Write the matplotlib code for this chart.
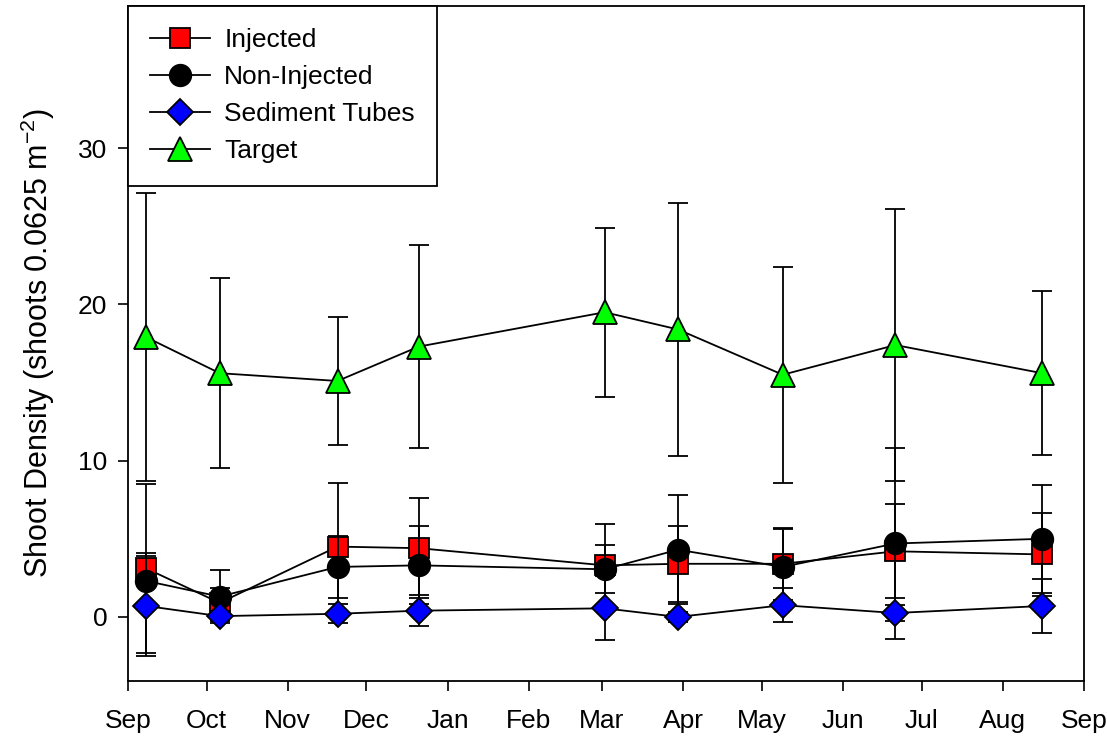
import numpy as np
import matplotlib
matplotlib.use('Agg')
import matplotlib.pyplot as plt
import matplotlib.dates as mdates

plt.rcParams['font.family'] = ['Liberation Sans', 'DejaVu Sans']
plt.rcParams['mathtext.default'] = 'regular'

# sampling dates
dates = np.array(['2010-09-08', '2010-10-06', '2010-11-20', '2010-12-21', '2011-03-02',
                  '2011-03-30', '2011-05-09', '2011-06-21', '2011-08-16'], dtype='datetime64[D]')

injected = [3.1, 0.9, 4.5, 4.4, 3.3, 3.4, 3.4, 4.2, 4.0]
injected_err = [5.4, 0.95, 4.1, 3.2, 2.65, 2.45, 2.3, 3.0, 2.65]

non_injected = [2.3, 1.3, 3.2, 3.3, 3.05, 4.3, 3.2, 4.7, 5.0]
non_injected_err = [1.8, 1.7, 2.0, 2.5, 1.55, 3.5, 2.45, 6.1, 3.45]

sediment = [0.7, 0.05, 0.2, 0.4, 0.55, 0.0, 0.75, 0.25, 0.7]
sediment_err = [3.2, 0.3, 0.6, 1.0, 2.05, 0.3, 1.1, 0.5, 1.7]

target = [17.9, 15.6, 15.1, 17.3, 19.5, 18.4, 15.5, 17.4, 15.6]
target_err = [9.2, 6.1, 4.1, 6.5, 5.4, 8.1, 6.9, 8.7, 5.25]

series = [
    ('Injected', injected, injected_err, 's', '#ff0000', 15),
    ('Non-Injected', non_injected, non_injected_err, 'o', '#000000', 15.5),
    ('Sediment Tubes', sediment, sediment_err, 'D', '#0000ff', 13.5),
    ('Target', target, target_err, '^', '#00ff00', 17.5),
]

LW = 1.3

fig = plt.figure(figsize=(11.07, 7.41), dpi=100)
ax = fig.add_axes([0.1156, 0.081, 0.9792 - 0.1156, 0.9919 - 0.081])

handles, labels = [], []
for i, (label, vals, errs, mk, col, ms) in enumerate(series):
    eb = ax.errorbar(dates, vals, yerr=errs, fmt='-', color='black', lw=LW,
                     marker=mk, markersize=ms, markerfacecolor=col, markeredgecolor='black',
                     markeredgewidth=LW, ecolor='black', elinewidth=LW, capsize=7.5,
                     capthick=LW, zorder=2 + i)
    handles.append(eb[0])
    labels.append(label)

ax.set_xlim(np.datetime64('2010-09-01'), np.datetime64('2011-09-01'))
ax.set_ylim(-4.1, 39.1)
ax.set_yticks([0, 10, 20, 30])
ax.xaxis.set_major_locator(mdates.MonthLocator())
ax.xaxis.set_major_formatter(mdates.DateFormatter('%b'))

ax.tick_params(axis='both', direction='out', length=7, width=1.2, labelsize=19)
ax.tick_params(axis='y', pad=8)
ax.tick_params(axis='x', pad=13)
for sp in ax.spines.values():
    sp.set_linewidth(1.3)

ax.set_ylabel('Shoot Density (shoots 0.0625 m$^{-2}$)', fontsize=22, labelpad=15)

leg = ax.legend(handles, labels, loc='upper left', bbox_to_anchor=(0, 1), borderaxespad=0,
                fancybox=False, edgecolor='black', framealpha=1, fontsize=19,
                handlelength=2.25, handletextpad=0.55, borderpad=0.85, labelspacing=0.49)
leg.get_frame().set_linewidth(1.3)

fig.savefig('out.png', dpi=100)
